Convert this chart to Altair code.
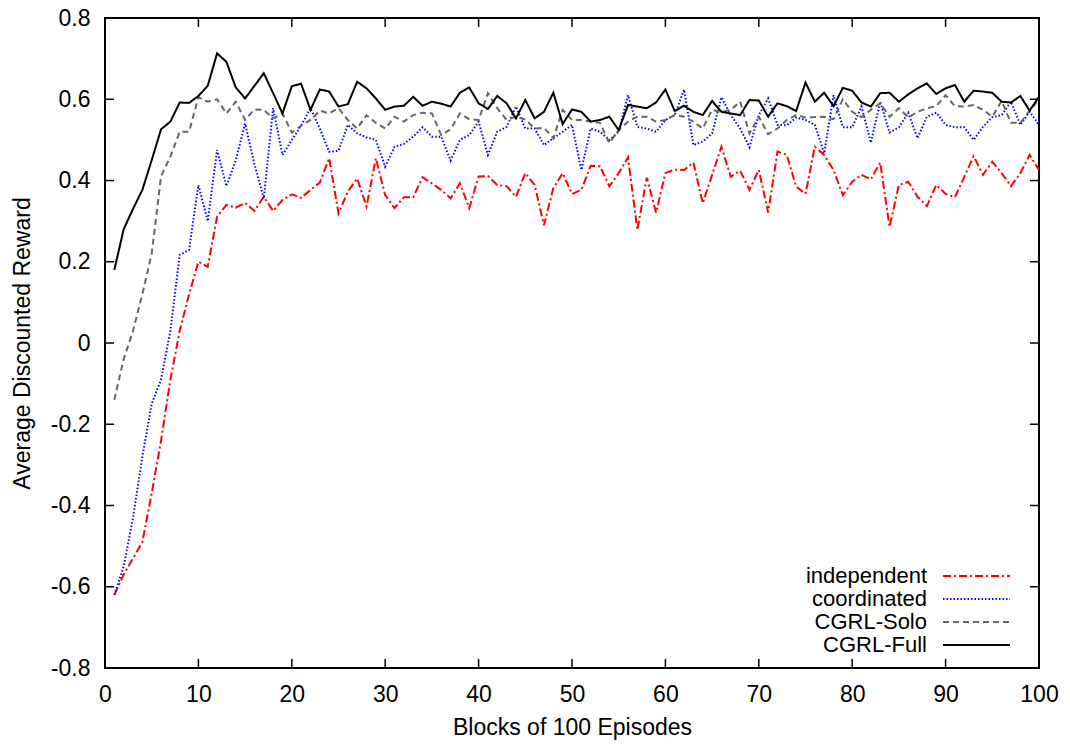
import altair as alt
import pandas as pd

# ---- data ----
blocks = list(range(1, 101))

independent = [
    -0.62, -0.57, -0.53, -0.49, -0.37, -0.24, -0.09, 0.03, 0.12, 0.20,
    0.188, 0.311, 0.340, 0.333, 0.345, 0.325, 0.360, 0.325, 0.352, 0.366,
    0.357, 0.377, 0.395, 0.455, 0.319, 0.373, 0.405, 0.336, 0.455, 0.364,
    0.332, 0.359, 0.359, 0.408, 0.393, 0.377, 0.356, 0.393, 0.332, 0.410,
    0.411, 0.389, 0.386, 0.360, 0.418, 0.389, 0.290, 0.381, 0.418, 0.367,
    0.377, 0.436, 0.435, 0.386, 0.418, 0.457, 0.278, 0.407, 0.321, 0.418,
    0.427, 0.426, 0.444, 0.344, 0.414, 0.483, 0.409, 0.424, 0.377, 0.426,
    0.321, 0.471, 0.463, 0.385, 0.367, 0.483, 0.463, 0.426, 0.364, 0.397,
    0.414, 0.403, 0.444, 0.286, 0.389, 0.397, 0.360, 0.337, 0.389, 0.367,
    0.359, 0.409, 0.460, 0.414, 0.446, 0.418, 0.386, 0.418, 0.463, 0.426,
]

coordinated = [
    -0.62, -0.55, -0.43, -0.28, -0.15, -0.09, 0.03, 0.217, 0.229, 0.389,
    0.300, 0.475, 0.386, 0.450, 0.540, 0.440, 0.356, 0.578, 0.463, 0.500,
    0.535, 0.578, 0.528, 0.471, 0.473, 0.537, 0.516, 0.506, 0.500, 0.434,
    0.483, 0.490, 0.508, 0.531, 0.508, 0.508, 0.449, 0.500, 0.512, 0.545,
    0.463, 0.520, 0.532, 0.582, 0.528, 0.528, 0.487, 0.504, 0.520, 0.537,
    0.426, 0.528, 0.520, 0.500, 0.520, 0.610, 0.532, 0.528, 0.520, 0.549,
    0.561, 0.624, 0.487, 0.496, 0.516, 0.605, 0.561, 0.528, 0.482, 0.561,
    0.602, 0.537, 0.536, 0.555, 0.549, 0.537, 0.467, 0.610, 0.531, 0.531,
    0.582, 0.493, 0.594, 0.518, 0.531, 0.567, 0.504, 0.557, 0.567, 0.537,
    0.531, 0.531, 0.500, 0.532, 0.556, 0.561, 0.594, 0.537, 0.569, 0.537,
]

cgrl_solo = [
    -0.14, -0.04, 0.03, 0.12, 0.22, 0.41, 0.459, 0.520, 0.520, 0.605,
    0.594, 0.600, 0.565, 0.594, 0.549, 0.575, 0.574, 0.553, 0.565, 0.518,
    0.535, 0.549, 0.572, 0.565, 0.578, 0.549, 0.528, 0.561, 0.542, 0.528,
    0.557, 0.545, 0.561, 0.567, 0.565, 0.512, 0.526, 0.565, 0.551, 0.549,
    0.615, 0.578, 0.549, 0.557, 0.550, 0.528, 0.530, 0.504, 0.574, 0.549,
    0.549, 0.545, 0.542, 0.492, 0.524, 0.545, 0.557, 0.557, 0.545, 0.549,
    0.561, 0.557, 0.545, 0.528, 0.574, 0.569, 0.574, 0.594, 0.516, 0.557,
    0.514, 0.528, 0.549, 0.561, 0.555, 0.556, 0.557, 0.551, 0.600, 0.569,
    0.556, 0.574, 0.590, 0.557, 0.578, 0.555, 0.569, 0.578, 0.583, 0.610,
    0.583, 0.582, 0.586, 0.574, 0.557, 0.596, 0.542, 0.542, 0.572, 0.600,
]

cgrl_full = [
    0.18, 0.28, 0.33, 0.377, 0.45, 0.526, 0.545, 0.592, 0.591, 0.608,
    0.633, 0.713, 0.692, 0.629, 0.602, 0.633, 0.664, 0.615, 0.565, 0.632,
    0.638, 0.574, 0.624, 0.619, 0.582, 0.588, 0.643, 0.627, 0.602, 0.574,
    0.582, 0.584, 0.606, 0.584, 0.594, 0.589, 0.582, 0.616, 0.629, 0.590,
    0.576, 0.608, 0.590, 0.553, 0.598, 0.553, 0.569, 0.616, 0.539, 0.575,
    0.569, 0.545, 0.549, 0.557, 0.524, 0.586, 0.582, 0.578, 0.592, 0.624,
    0.571, 0.584, 0.569, 0.561, 0.596, 0.569, 0.565, 0.561, 0.598, 0.597,
    0.557, 0.590, 0.583, 0.571, 0.641, 0.594, 0.616, 0.583, 0.628, 0.621,
    0.592, 0.582, 0.615, 0.616, 0.594, 0.612, 0.627, 0.639, 0.613, 0.627,
    0.635, 0.594, 0.621, 0.619, 0.616, 0.594, 0.592, 0.608, 0.572, 0.606,
]

series_names = ["independent", "coordinated", "CGRL-Solo", "CGRL-Full"]
series_values = [independent, coordinated, cgrl_solo, cgrl_full]

x_ticks = [0, 10, 20, 30, 40, 50, 60, 70, 80, 90, 100]
y_ticks = [-0.8, -0.6, -0.4, -0.2, 0.0, 0.2, 0.4, 0.6, 0.8]

# ---- styles ----
colors = ["#ff0000", "#0000ff", "#666666", "#000000"]
dashes = [[8, 3, 2, 3], [1.5, 2], [6, 4], [1, 0]]
FONT = "Liberation Sans"
FS = 23
LFS = 22
W, H = 934, 650

rows = []
for name, vals in zip(series_names, series_values):
    for b, v in zip(blocks, vals):
        rows.append({"block": b, "reward": v, "series": name})
df = pd.DataFrame(rows)

x_scale = alt.Scale(domain=[0, 100], nice=False, zero=False)
y_scale = alt.Scale(domain=[-0.8, 0.8], nice=False, zero=False)

x_axis = alt.Axis(
    values=x_ticks, tickSize=0, domain=False, grid=False, labelFlush=False,
    labelPadding=15, labelFont=FONT, labelFontSize=FS, labelColor="black",
    title="Blocks of 100 Episodes", titleFont=FONT, titleFontSize=FS,
    titleFontWeight="normal", titleColor="black",
    titleY=59, titleBaseline="middle",
)
y_axis = alt.Axis(
    values=y_ticks, tickSize=0, domain=False, grid=False, labelFlush=False,
    labelPadding=15, labelFont=FONT, labelFontSize=FS, labelColor="black",
    labelExpr="toString(round(datum.value*10)/10)",
    title="Average Discounted Reward", titleFont=FONT, titleFontSize=FS,
    titleFontWeight="normal", titleColor="black",
    titleX=-83, titleY=H / 2, titleAlign="center", titleBaseline="middle",
    titleAngle=-90,
)

X = alt.X("block:Q", scale=x_scale, axis=x_axis)
Y = alt.Y("reward:Q", scale=y_scale, axis=y_axis)

layers = []
for i, name in enumerate(series_names):
    layers.append(
        alt.Chart(df)
        .transform_filter(alt.datum.series == name)
        .mark_line(color=colors[i], strokeDash=dashes[i], strokeWidth=2, clip=True)
        .encode(x=X, y=Y)
    )

# inward tick marks on all four sides
xt = pd.DataFrame({"block": x_ticks})
yt = pd.DataFrame({"reward": y_ticks})
TL = 9
layers.append(alt.Chart(xt).mark_rule(color="black", strokeWidth=1.5).encode(
    x=X, y=alt.value(H), y2=alt.value(H - TL)))
layers.append(alt.Chart(xt).mark_rule(color="black", strokeWidth=1.5).encode(
    x=X, y=alt.value(0), y2=alt.value(TL)))
layers.append(alt.Chart(yt).mark_rule(color="black", strokeWidth=1.5).encode(
    y=Y, x=alt.value(0), x2=alt.value(TL)))
layers.append(alt.Chart(yt).mark_rule(color="black", strokeWidth=1.5).encode(
    y=Y, x=alt.value(W - TL), x2=alt.value(W)))

# legend (label left of sample line, gnuplot style)
one = pd.DataFrame({"k": [0]})
for i, name in enumerate(series_names):
    ly = 558 + 23 * i
    layers.append(alt.Chart(one).mark_text(
        text=name, align="right", baseline="middle", font=FONT, fontSize=LFS, color="black"
    ).encode(x=alt.value(822), y=alt.value(ly)))
    layers.append(alt.Chart(one).mark_rule(
        color=colors[i], strokeDash=dashes[i], strokeWidth=2
    ).encode(x=alt.value(838), x2=alt.value(905), y=alt.value(ly)))

chart = (
    alt.layer(*layers)
    .properties(
        width=W, height=H, background="white",
        autosize=alt.AutoSizeParams(type="none"),
        padding={"left": 105, "top": 18, "right": 31, "bottom": 78},
    )
    .configure_view(stroke="black", strokeWidth=2)
)

chart.save("out.html", embed_options={"renderer": "svg", "actions": False})
